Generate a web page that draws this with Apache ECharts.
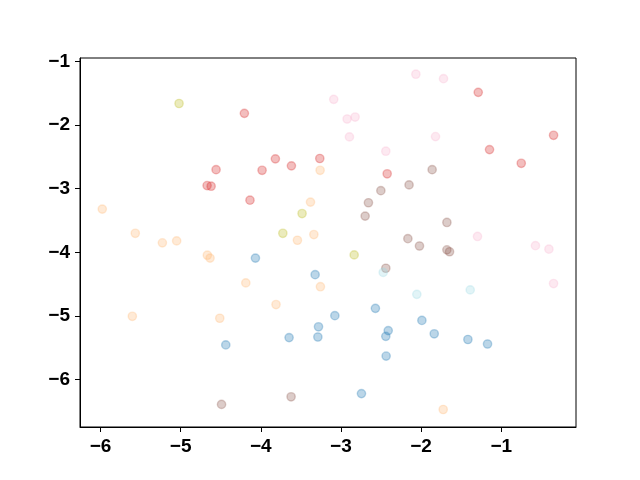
<!DOCTYPE html>
<html>
<head>
<meta charset="utf-8">
<script src="https://cdn.jsdelivr.net/npm/echarts@6/dist/echarts.min.js"></script>
<style>html,body{margin:0;padding:0;background:#fff}#c{width:640px;height:480px}</style>
</head>
<body>
<div id="c"></div>
<script>
const xTicks = [-6, -5, -4, -3, -2, -1];
const yTicks = [-6, -5, -4, -3, -2, -1];

const blueX = [-4.067,-4.437,-3.322,-3.076,-2.57,-3.28,-3.288,-3.647,-2.41,-2.44,-2.436,-2.744,-1.99,-1.836,-1.416,-1.171];
const blueY = [-4.09,-5.455,-4.35,-4.995,-4.88,-5.17,-5.33,-5.34,-5.23,-5.32,-5.63,-6.22,-5.07,-5.28,-5.37,-5.44];

const orangeX = [-5.978,-5.566,-5.228,-5.05,-4.667,-4.633,-4.187,-5.603,-4.512,-3.26,-3.38,-3.543,-3.338,-3.256,-3.81,-1.724];
const orangeY = [-3.32,-3.70,-3.85,-3.82,-4.045,-4.09,-4.48,-5.005,-5.036,-2.71,-3.21,-3.81,-3.72,-4.54,-4.82,-6.47];

const redX = [-4.205,-4.558,-4.67,-4.62,-4.135,-3.818,-3.984,-3.618,-3.264,-2.423,-1.287,-0.347,-1.146,-0.75];
const redY = [-1.815,-2.70,-2.95,-2.96,-3.18,-2.53,-2.71,-2.64,-2.525,-2.765,-1.485,-2.16,-2.385,-2.6];

const pinkX = [-2.065,-3.09,-2.923,-2.823,-2.894,-2.44,-1.72,-1.82,-1.296,-0.573,-0.405,-0.347];
const pinkY = [-1.2,-1.595,-1.904,-1.873,-2.185,-2.41,-1.27,-2.18,-3.75,-3.895,-3.95,-4.49];

const brownX = [-2.15,-2.502,-2.657,-2.698,-2.165,-1.862,-1.678,-2.02,-1.678,-1.645,-2.44,-4.49,-3.622];
const brownY = [-2.94,-3.03,-3.22,-3.43,-3.785,-2.70,-3.53,-3.9,-3.96,-3.99,-4.25,-6.39,-6.27];

const oliveX = [-5.02,-3.485,-3.725,-2.835];
const oliveY = [-1.66,-3.39,-3.70,-4.04];

const cyanX = [-2.473,-2.053,-1.387];
const cyanY = [-4.315,-4.66,-4.59];

function zip(xs, ys) { return xs.map((x, i) => [x, ys[i]]); }
function rgba(hex, a) {
  const n = parseInt(hex.slice(1), 16);
  return 'rgba(' + ((n >> 16) & 255) + ',' + ((n >> 8) & 255) + ',' + (n & 255) + ',' + a + ')';
}
function mk(name, xs, ys, hex) {
  return {
    name: name, type: 'scatter', data: zip(xs, ys), symbolSize: 8.3,
    itemStyle: { color: rgba(hex, 0.3), borderColor: rgba(hex, 0.3), borderWidth: 1.4, opacity: 1 },
    emphasis: { disabled: true }
  };
}
const fmt = v => String(v).replace('-', '\u2212');
const labelStyle = { color: '#000', fontFamily: 'Liberation Sans', fontWeight: 'bold', fontSize: 19, formatter: fmt };

const chart = echarts.init(document.getElementById('c'), null, { renderer: 'canvas' });
chart.setOption({
  animation: false,
  backgroundColor: '#fff',
  grid: { left: 80, right: 64, top: 58, bottom: 53, show: true, borderColor: '#000', borderWidth: 1, backgroundColor: 'transparent' },
  xAxis: {
    type: 'value', min: -6.256, max: -0.067,
    axisLine: { show: true, onZero: false, lineStyle: { color: '#000', width: 1 } },
    axisTick: { show: true, length: 5, lineStyle: { color: '#000' }, customValues: xTicks },
    axisLabel: Object.assign({ margin: 10, customValues: xTicks }, labelStyle),
    splitLine: { show: false }
  },
  yAxis: {
    type: 'value', min: -6.745, max: -0.945,
    axisLine: { show: true, onZero: false, lineStyle: { color: '#000', width: 1 } },
    axisTick: { show: true, length: 5, lineStyle: { color: '#000' }, customValues: yTicks },
    axisLabel: Object.assign({ margin: 10, customValues: yTicks }, labelStyle),
    splitLine: { show: false }
  },
  series: [
    mk('blue', blueX, blueY, '#1f77b4'),
    mk('orange', orangeX, orangeY, '#ffbb78'),
    mk('red', redX, redY, '#d62728'),
    mk('brown', brownX, brownY, '#8c564b'),
    mk('pink', pinkX, pinkY, '#f7b6d2'),
    mk('olive', oliveX, oliveY, '#bcbd22'),
    mk('cyan', cyanX, cyanY, '#9edae5')
  ]
});
</script>
</body>
</html>
